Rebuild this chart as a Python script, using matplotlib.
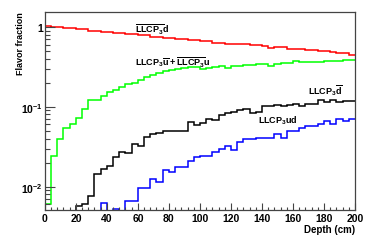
import numpy as np
import matplotlib
matplotlib.use("Agg")
import matplotlib.pyplot as plt
from matplotlib.ticker import FixedLocator, LogLocator, NullFormatter, MultipleLocator

plt.rcParams['font.family'] = ['Liberation Sans', 'DejaVu Sans']
plt.rcParams['font.weight'] = 'bold'
plt.rcParams['mathtext.fontset'] = 'custom'
plt.rcParams['mathtext.rm'] = 'Liberation Sans:bold'
plt.rcParams['mathtext.it'] = 'Liberation Sans:bold'
plt.rcParams['mathtext.bf'] = 'Liberation Sans:bold'
plt.rcParams['mathtext.default'] = 'rm'

# Depth bins (cm)
depth_edges = np.arange(0, 204, 4)

# LLCP3-bar d (red)
frac_llcpbar_d = [1.03, 1.00, 1.00, 0.96, 0.96, 0.93, 0.93, 0.90, 0.90, 0.865,
                  0.86, 0.84, 0.84, 0.82, 0.815, 0.785, 0.785, 0.756, 0.756, 0.728,
                  0.728, 0.707, 0.707, 0.687, 0.685, 0.662, 0.662, 0.637, 0.637, 0.618,
                  0.618, 0.607, 0.607, 0.59, 0.59, 0.568, 0.547, 0.557, 0.557, 0.531,
                  0.531, 0.528, 0.516, 0.516, 0.492, 0.492, 0.483, 0.469, 0.469, 0.439]

# LLCP3 ubar + LLCP3-bar u (green)
frac_ubar_u = [0.0061, 0.0239, 0.039, 0.0548, 0.060, 0.073, 0.094, 0.120, 0.121, 0.138,
               0.154, 0.164, 0.177, 0.190, 0.200, 0.218, 0.236, 0.252, 0.265, 0.277,
               0.285, 0.296, 0.305, 0.314, 0.310, 0.297, 0.305, 0.314, 0.320, 0.305,
               0.326, 0.326, 0.336, 0.336, 0.343, 0.343, 0.326, 0.343, 0.352, 0.348,
               0.369, 0.360, 0.360, 0.363, 0.363, 0.369, 0.369, 0.376, 0.380, 0.388]

# LLCP3 dbar (black)
frac_dbar = [0.003, 0.003, 0.003, 0.003, 0.003, 0.0057, 0.0061, 0.0076, 0.0144, 0.0166,
             0.0179, 0.0232, 0.0268, 0.0262, 0.034, 0.0318, 0.0423, 0.0452, 0.0475, 0.0498,
             0.0498, 0.0498, 0.0498, 0.0645, 0.0585, 0.062, 0.0709, 0.068, 0.078, 0.0826,
             0.0857, 0.0907, 0.0944, 0.0826, 0.0857, 0.1017, 0.1017, 0.104, 0.1017, 0.104,
             0.107, 0.1017, 0.107, 0.107, 0.123, 0.114, 0.123, 0.114, 0.117, 0.117]

# LLCP3 ud (blue)
frac_ud = [0.003, 0.003, 0.003, 0.003, 0.003, 0.003, 0.003, 0.003, 0.003, 0.0062,
           0.003, 0.0053, 0.003, 0.0067, 0.0067, 0.00955, 0.00955, 0.0125, 0.0115, 0.0163,
           0.0154, 0.0174, 0.0174, 0.021, 0.0232, 0.0243, 0.0243, 0.0268, 0.0294, 0.0324,
           0.0289, 0.0357, 0.0392, 0.0392, 0.0411, 0.0411, 0.0411, 0.0452, 0.0411, 0.0498,
           0.0498, 0.0548, 0.0574, 0.0574, 0.0602, 0.0662, 0.0602, 0.0708, 0.0662, 0.0708]

fig = plt.figure(figsize=(3.74, 2.53), dpi=100)
ax = fig.add_axes([0.120, 0.166, 0.829, 0.784])

lw = 1.1
ax.stairs(frac_llcpbar_d, depth_edges, color='#ff0000', lw=lw, baseline=None)
ax.stairs(frac_ubar_u, depth_edges, color='#00ff00', lw=lw, baseline=None)
ax.stairs(frac_dbar, depth_edges, color='black', lw=lw, baseline=None)
ax.stairs(frac_ud, depth_edges, color='#0000ff', lw=lw, baseline=None)

ax.set_yscale('log')
ax.set_xlim(0, 200)
ax.set_ylim(0.0051, 1.55)

ax.xaxis.set_major_locator(MultipleLocator(20))
ax.xaxis.set_minor_locator(MultipleLocator(4))
ax.yaxis.set_major_locator(FixedLocator([0.01, 0.1, 1]))
ax.yaxis.set_minor_locator(LogLocator(base=10, subs=np.arange(2, 10)))
ax.yaxis.set_minor_formatter(NullFormatter())
ax.set_yticklabels([r'$10^{-2}$', r'$10^{-1}$', '1'])

spine_col = '#444444'
for s in ax.spines.values():
    s.set_color(spine_col)
    s.set_linewidth(0.9)

ax.tick_params(axis='both', which='both', direction='in', top=False, right=False,
               color=spine_col, labelsize=7.5, width=0.8)
ax.tick_params(axis='y', which='major', length=7)
ax.tick_params(axis='y', which='minor', length=3.5)
ax.tick_params(axis='x', which='major', length=5)
ax.tick_params(axis='x', which='minor', length=2.5)
ax.tick_params(axis='x', pad=2)
ax.tick_params(axis='y', pad=1.5)
for lab in ax.get_xticklabels() + ax.get_yticklabels():
    lab.set_fontweight('bold')

ax.set_xlabel('Depth (cm)', fontsize=7.0, fontweight='bold', loc='right', labelpad=1)
ax.set_ylabel('Flavor fraction', fontsize=6.5, fontweight='bold', loc='top')
ax.yaxis.set_label_coords(-0.065, 1.0)

fs = 6.5
ax.text(58, 0.864, r'$\overline{LLCP_3}d$', fontsize=fs, va='baseline', ha='left')
ax.text(58, 0.336, r'$LLCP_3\overline{u} + \overline{LLCP_3}u$', fontsize=fs, va='baseline', ha='left')
ax.text(169.5, 0.146, r'$LLCP_3\overline{d}$', fontsize=fs, va='baseline', ha='left')
ax.text(137.5, 0.0637, r'$LLCP_3ud$', fontsize=fs, va='baseline', ha='left')

fig.savefig('out.png', dpi=100)
